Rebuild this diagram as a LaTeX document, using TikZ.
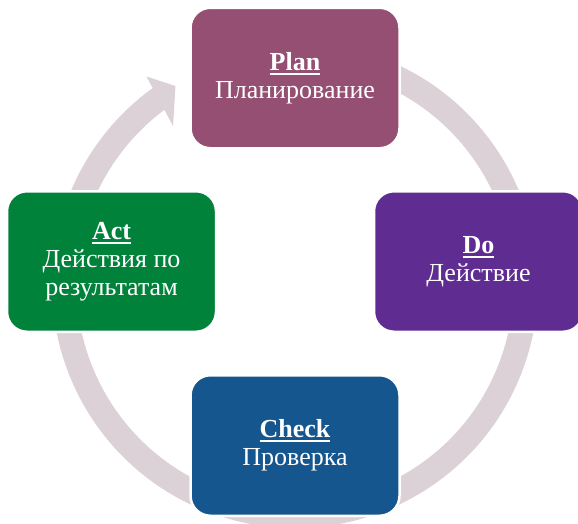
\documentclass[tikz,border=0pt]{standalone}
\usepackage{fontspec}
\setmainfont{Liberation Serif}
\newfontfamily\lsrf{Liberation Serif}
\definecolor{planc}{HTML}{954F72}
\definecolor{doc}{HTML}{5F2C91}
\definecolor{checkc}{HTML}{15568F}
\definecolor{actc}{HTML}{00823B}
\definecolor{ringc}{HTML}{DCD1D6}
\newcommand\ulw[1]{\setbox0\hbox{#1}\rlap{\rule[-4.6pt]{\wd0}{2.2pt}}\box0}
\begin{document}
\begin{tikzpicture}[x=1pt,y=1pt,
  box/.style={rounded corners=20, draw=white, line width=2.5, minimum width=209,
    minimum height=140.5, text=white, align=center, inner sep=0,
    font=\lsrf\fontsize{26}{28}\selectfont},
  ringline/.style={draw=ringc, line width=24.5}]
\useasboundingbox (0,0) rectangle (578,-523);
\clip (0,0) rectangle (578,-523);
\coordinate (C) at (295,-285);
\draw[ringline] ([shift={(70:230.75)}]C) arc[start angle=70, end angle=-235, radius=230.75];
\coordinate (h1) at (146.5,-76.5);
\coordinate (h2) at (175.5,-86);
\coordinate (h3) at (173,-126);
\fill[ringc] (h1) -- (h2) -- (h3) -- cycle;
\node[box, fill=planc] (plan) at (295,-78) {\ulw{\textbf{Plan}}\\Планирование};
\node[box, fill=doc] (do) at (478.5,-261.5) {\ulw{\textbf{Do}}\\Действие};
\node[box, fill=checkc] (check) at (295,-445.5) {\ulw{\textbf{Check}}\\Проверка};
\node[box, fill=actc] (act) at (111.5,-261.5) {\ulw{\textbf{Act}}\\Действия по\\результатам};
\end{tikzpicture}
\end{document}
